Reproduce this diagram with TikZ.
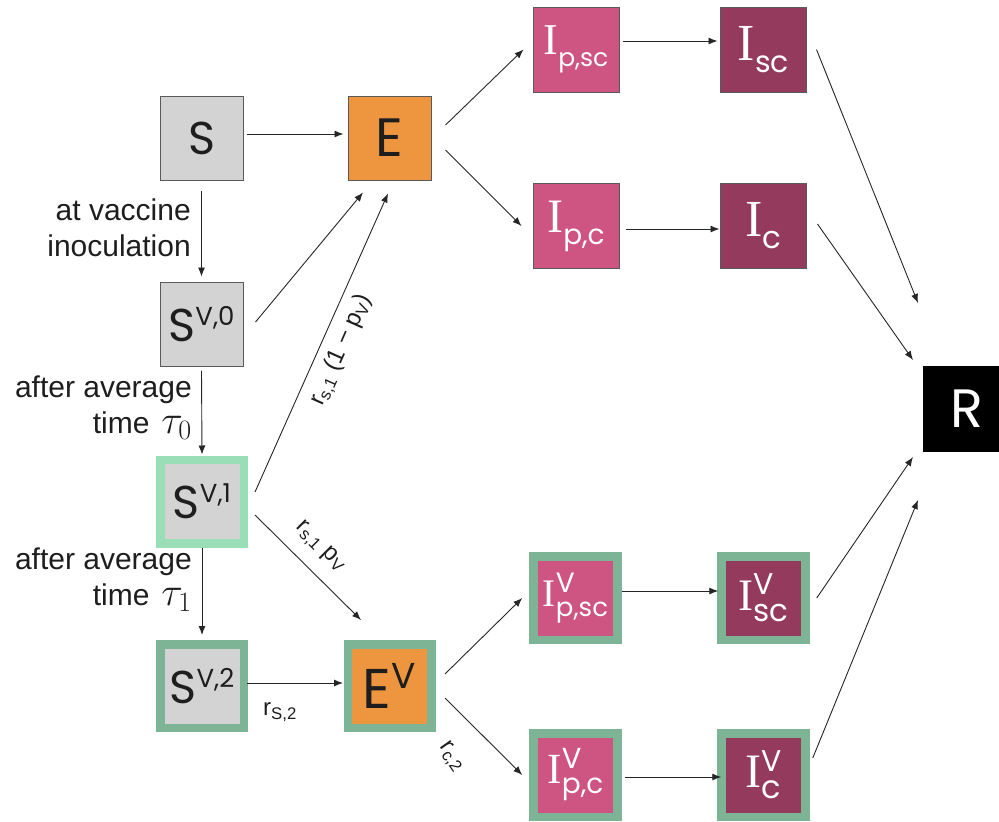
\RequirePackage{fix-cm}
\documentclass[tikz,border=0pt]{standalone}
\usepackage{fontspec}
\setmainfont{Liberation Sans}
\newfontfamily\boxfont{Poppins}
\newfontfamily\ifont{Liberation Serif}
\usetikzlibrary{calc,arrows.meta}
\definecolor{cgray}{HTML}{D3D3D3}
\definecolor{cedge}{HTML}{5A5A5A}
\definecolor{corange}{HTML}{EE963F}
\definecolor{cpink}{HTML}{CE5481}
\definecolor{cplum}{HTML}{933A5D}
\definecolor{clgreen}{HTML}{9ADEB7}
\definecolor{cmgreen}{HTML}{7CB495}
\definecolor{ctext}{HTML}{1E1E1E}
\newcommand\fs[1]{\fontsize{#1}{#1}\selectfont}
% S with superscript
\newcommand\Ssup[1]{\fs{46}S\raisebox{16pt}{\fs{26}#1}}
% I with subscript: #1 I size, #2 sub size, #3 sub, #4 drop
\newcommand\Isub[4]{{\ifont\fs{#1}I}\raisebox{-#4}{\fs{#2}#3}}
% I with V and subscript: #1 I size, #2 V size, #3 sub size, #4 sub, #5 raise, #6 drop
\newcommand\Ivsub[6]{{\ifont\fs{#1}I}\makebox[0pt][l]{\raisebox{#5}{\fs{#2}V}}\raisebox{-#6}{\fs{#3}#4}}
\tikzset{
  arr/.style={-{Latex[length=9pt,width=7pt]}, line width=0.9pt, draw=black!85},
  plainbox/.style={draw=cedge, line width=1pt, minimum width=83pt, minimum height=84pt, inner sep=0pt, font=\boxfont, text=ctext},
  vbox/.style={line width=8.5pt, minimum size=83.5pt, inner sep=0pt, font=\boxfont, text=ctext},
  ibox/.style={draw=cedge, line width=1pt, minimum width=86pt, minimum height=85pt, inner sep=0pt, font=\boxfont, text=white},
  ivbox/.style={draw=cmgreen, line width=8.5pt, minimum width=84pt, minimum height=83.5pt, inner sep=0pt, font=\boxfont, text=white},
  lab/.style={font=\fontsize{30}{36}\selectfont, align=right, inner sep=0pt, text=ctext, anchor=north east},
  rate/.style={font=\fs{24}, inner sep=0pt, text=ctext},
}
\begin{document}
\begin{tikzpicture}[x=1pt,y=-1pt]
\useasboundingbox (0,0) rectangle (999,822);
% nodes
\node[plainbox, fill=cgray] (S) at (201.5,138) {\fs{46}S};
\node[plainbox, fill=corange] (E) at (389.5,138) {\fs{54}E};
\node[plainbox, fill=cgray] (sv0) at (201.5,324) {\Ssup{V,0}};
\node[vbox, fill=cgray, draw=clgreen] (sv1) at (202,501.5) {\Ssup{V,1}};
\node[vbox, fill=cgray, draw=cmgreen] (sv2) at (202,686) {\Ssup{V,2}};
\node[vbox, fill=corange, draw=cmgreen] (EV) at (389.5,686) {\fs{56}E\raisebox{20pt}{\fs{36}V}};
\node[ibox, fill=cpink] (Ipsc) at (576,49.5) {\Isub{44}{25}{p,sc}{12pt}};
\node[ibox, fill=cplum] (Isc) at (763.5,49.5) {\Isub{52}{30}{sc}{12pt}};
\node[ibox, fill=cpink] (Ipc) at (576,226) {\Isub{48}{28}{p,c}{12pt}};
\node[ibox, fill=cplum] (Ic) at (763.5,226) {\Isub{52}{31}{c}{12pt}};
\node[ivbox, fill=cpink] (IVpsc) at (575.5,598) {\Ivsub{39}{28}{26}{p,sc}{14pt}{10pt}};
\node[ivbox, fill=cplum] (IVsc) at (763.5,598) {\Ivsub{45}{30}{31}{sc}{16pt}{11pt}};
\node[ivbox, fill=cpink] (IVpc) at (575.5,775) {\Ivsub{43}{29}{28}{p,c}{15pt}{10pt}};
\node[ivbox, fill=cplum] (IVc) at (763.5,775) {\Ivsub{48}{30}{32}{c}{16pt}{11pt}};
\node[fill=black, text=white, minimum width=77pt, minimum height=86pt, inner sep=0pt, outer sep=0pt, font=\boxfont] (R) at (961.5,409) {\hspace*{10pt}\fs{54}R};
% text labels
\node[lab] (l1) at (191,199) {at vaccine\\inoculation};
\node[lab] (l2) at (192,376) {after average\\time\hspace{12pt}{\fs{40}$\tau_0$}};
\node[lab] (l3) at (192,548) {after average\\time\hspace{12pt}{\fs{40}$\tau_1$}};
% rate labels
\node[rate, rotate=66] (r1) at (341,350) {r\textsubscript{s,1} (1 − p\textsubscript{V})};
\node[rate, rotate=-45] (r2) at (320,547) {r\textsubscript{s,1} p\textsubscript{V}};
\node[rate] (r3) at (280,712) {r\textsubscript{S,2}};
\node[rate, rotate=-55] (r4) at (451,757) {r\textsubscript{c,2}};
% connectors
\draw[arr] ($(S.east)+(3,-4)$) -- ($(E.west)+(-4,-4)$);
\draw[arr] ($(E.east)+(14,-13)$) -- ($(Ipsc.west)+(-9,0)$);
\draw[arr] ($(E.east)+(14,12)$) -- ($(Ipc.west)+(-11,0)$);
\draw[arr] ($(Ipsc.east)+(3,-8.5)$) -- ($(Isc.west)+(-2.5,-8.5)$);
\draw[arr] ($(Ipc.east)+(6,3)$) -- ($(Ic.west)+(-0.5,3)$);
\draw[arr] ($(S.south)+(0,10)$) -- ($(sv0.north)+(0,-5)$);
\draw[arr] ($(sv0.east)+(12,-2)$) -- ($(E.south)+(-26.5,12)$);
\draw[arr] ($(sv1.east)+(7,-9.5)$) -- ($(E.south)+(-1.5,13)$);
\draw[arr] ($(sv0.south)+(0,4)$) -- ($(sv1.north)+(0,-1)$);
\draw[arr] ($(sv1.south)+(0,0.5)$) -- ($(sv2.north)+(0,-5)$);
\draw[arr] ($(sv1.east)+(7,13.5)$) -- ($(EV.north)+(-28.5,-20)$);
\draw[arr] ($(sv2.east)+(-1,-3)$) -- ($(EV.west)+(-0.5,-3)$);
\draw[arr] ($(EV.east)+(9.5,-12)$) -- ($(IVpsc.west)+(-7,0)$);
\draw[arr] ($(EV.east)+(9.5,12)$) -- ($(IVpc.west)+(-7,0)$);
\draw[arr] ($(IVpsc.east)+(0,-7)$) -- ($(IVsc.west)+(1,-7)$);
\draw[arr] ($(IVpc.east)+(3,2)$) -- ($(IVc.west)+(4,2)$);
\draw[arr] ($(Isc.east)+(9.5,0)$) -- ($(R.north west)+(-5,-63)$);
\draw[arr] ($(Ic.east)+(10.5,-2)$) -- ($(R.north west)+(-10,-6)$);
\draw[arr] ($(IVsc.east)+(7,0)$) -- ($(R.south west)+(-10,5)$);
\draw[arr] ($(IVc.east)+(3,-17)$) -- ($(R.south west)+(-5,48)$);
\end{tikzpicture}
\end{document}
